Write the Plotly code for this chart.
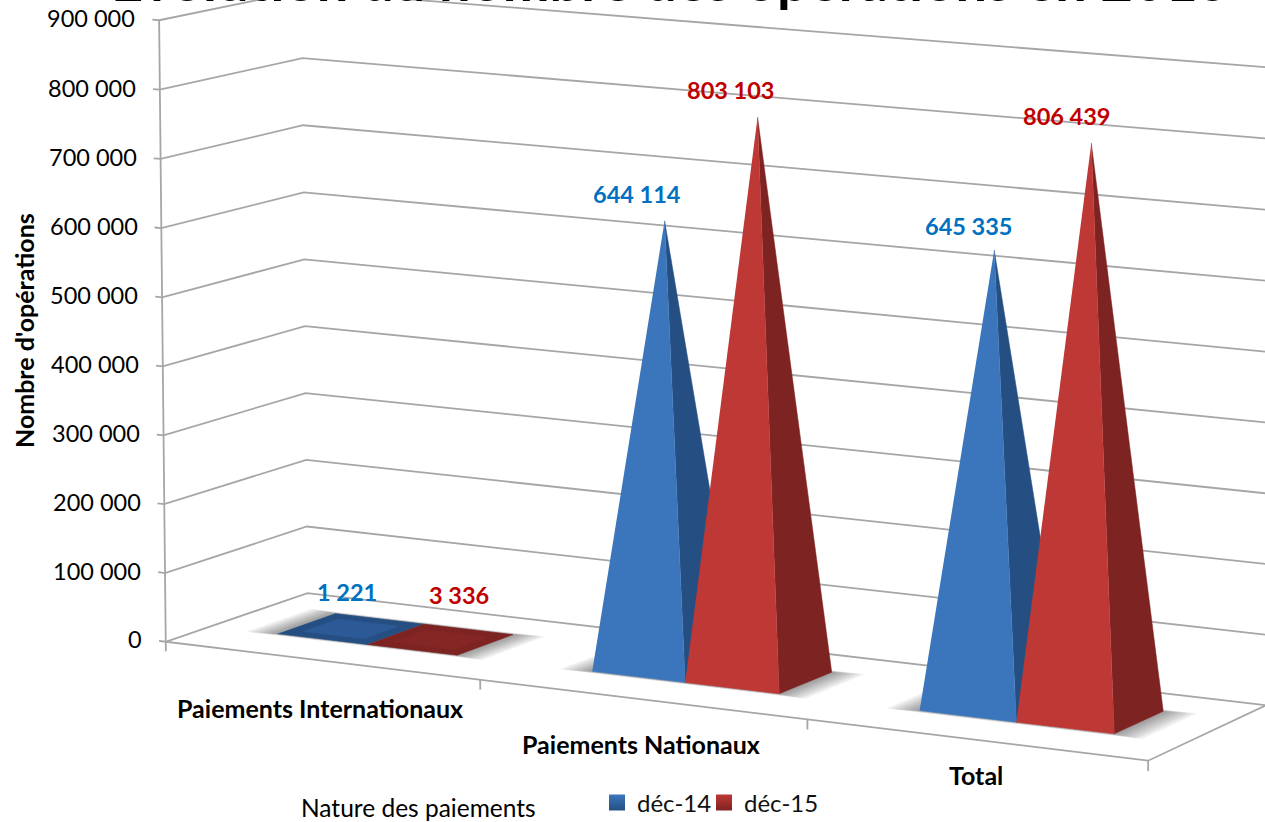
import numpy as np
import plotly.graph_objects as go

CATEGORIES = ["Paiements Internationaux", "Paiements Nationaux", "Total"]
SERIES_NAMES = ["déc-14", "déc-15"]
DEC_14 = [1221, 644114, 645335]
DEC_15 = [3336, 803103, 806439]
Y_TICKS = [0, 100000, 200000, 300000, 400000, 500000, 600000, 700000, 800000, 900000]
Y_TICK_LABELS = ["0", "100 000", "200 000", "300 000", "400 000", "500 000",
                 "600 000", "700 000", "800 000", "900 000"]

FONT = "Lato"
Y_MAX = 900000

# -----------------------------
# perspective of the 3D box, fitted on its corners
# (category, depth, value) -> page position
# -----------------------------
BOX_3D = [(0, 0, 0), (1, 0, 0), (2, 0, 0), (3, 0, 0), (0, 1, 0), (3, 1, 0),
          (0, 0, 1), (0, 1, 1), (3, 1, 1), (0, 0, 8 / 9), (0, 1, 8 / 9), (3, 1, 8 / 9)]
BOX_PAGE = [(166, 639), (480, 683), (808, 720), (1149, 758), (307, 593), (1265, 707),
            (158, 21.5), (303, -10), (1265, 67), (159.5, 90), (303, 58), (1265, 138)]

rows, rhs = [], []
for (c, d, z), (u, w) in zip(BOX_3D, BOX_PAGE):
    rows.append([c, d, z, 1, 0, 0, 0, 0, -u * c, -u * d, -u * z])
    rhs.append(u)
    rows.append([0, 0, 0, 0, c, d, z, 1, -w * c, -w * d, -w * z])
    rhs.append(w)
P = np.linalg.lstsq(np.array(rows, float), np.array(rhs, float), rcond=None)[0]


def project(c, d, v):
    z = v / Y_MAX
    den = P[8] * c + P[9] * d + P[10] * z + 1
    return (P[0] * c + P[1] * d + P[2] * z + P[3]) / den, (P[4] * c + P[5] * d + P[6] * z + P[7]) / den


def polyline(points):
    xy = [project(*p) for p in points]
    return [q[0] for q in xy], [q[1] for q in xy]


fig = go.Figure()


def add_lines(points, color="#a6a6a6", width=1.8):
    x, y = polyline(points)
    fig.add_trace(go.Scatter(x=x, y=y, mode="lines", line=dict(color=color, width=width),
                             hoverinfo="skip", showlegend=False))


def add_face(points, color, opacity=1.0, name=None):
    x, y = polyline(points)
    fig.add_trace(go.Scatter(x=x, y=y, mode="lines", fill="toself", fillcolor=color,
                             line=dict(color=color, width=0.5 if opacity == 1.0 else 0),
                             opacity=opacity, showlegend=False,
                             hoverinfo="skip" if name is None else "text", text=name))


# -----------------------------
# walls and floor
# -----------------------------
for tick in Y_TICKS:
    add_lines([(-0.022, 0, tick), (0, 0, tick), (0, 1, tick), (3, 1, tick)])
add_lines([(0, 0, 0), (0, 0, Y_MAX)])
add_lines([(0, 0, 0), (3, 0, 0), (3, 1, 0)])
for c in range(4):
    add_lines([(c, 0, 0), (c, 0, -14000)])

# -----------------------------
# pyramids
# -----------------------------
BAR_START = 0.213
BAR_WIDTH = 0.288
DEPTH_FRONT = 0.32
DEPTH_BACK = 0.73
APEX_DEPTH = 0.47
APEX_SHIFT = 0.028
FRONT_COLORS = ["#3b76bc", "#be3836"]
SIDE_COLORS = ["#254f82", "#7d2321"]
FLAT_COLORS = ["#2c5a96", "#842624"]
FLAT_LIMIT = 20000
SHADOW_STEPS = [0.09, 0.078, 0.066, 0.054, 0.043, 0.032, 0.022, 0.012]


def base_corners(c0, c1, d0, d1, grow=0.0):
    return [(c0 - grow, d0 - grow * 0.3, 0), (c1 + grow, d0 - grow * 0.3, 0),
            (c1 + grow, d1 + grow * 0.3, 0), (c0 - grow, d1 + grow * 0.3, 0)]


for i in range(len(CATEGORIES)):
    c0 = i + BAR_START
    c1 = c0 + 2 * BAR_WIDTH
    for grow in SHADOW_STEPS:
        add_face(base_corners(c0, c1, DEPTH_FRONT, DEPTH_BACK, grow), "#555555", opacity=0.085)
    for s, values in enumerate([DEC_14, DEC_15]):
        left = c0 + s * BAR_WIDTH
        right = left + BAR_WIDTH
        apex = ((left + right) / 2 + APEX_SHIFT, APEX_DEPTH, values[i])
        label = f"{SERIES_NAMES[s]} : {values[i]:,}".replace(",", " ")
        if values[i] < FLAT_LIMIT:
            add_face(base_corners(left, right, DEPTH_FRONT, DEPTH_BACK), SIDE_COLORS[s], name=label)
            add_face(base_corners(left + 0.045, right - 0.045, DEPTH_FRONT + 0.08, DEPTH_BACK - 0.08),
                     FLAT_COLORS[s], name=label)
        else:
            add_face([(right, DEPTH_FRONT, 0), (right, DEPTH_BACK, 0), apex], SIDE_COLORS[s], name=label)
            add_face([(left, DEPTH_FRONT, 0), (right, DEPTH_FRONT, 0), apex], FRONT_COLORS[s], name=label)

# legend entries, one legend each so the entries can sit close together
LEGEND_REFS = ["legend", "legend2"]
for s, name in enumerate(SERIES_NAMES):
    fig.add_trace(go.Scatter(x=[None], y=[None], mode="markers", name=name, legend=LEGEND_REFS[s],
                             marker=dict(symbol="square", size=16, color=FRONT_COLORS[s],
                                         gradient=dict(type="vertical", color=SIDE_COLORS[s]))))

# -----------------------------
# texts
# -----------------------------
annotations = []


def add_text(x, y, text, size, color="black", bold=False, xshift=0, yshift=0, xanchor="center", angle=0,
             yanchor="middle"):
    annotations.append(dict(x=x, y=y, text=f"<b>{text}</b>" if bold else text, showarrow=False,
                            font=dict(family=FONT, size=size, color=color), xshift=xshift, yshift=yshift,
                            xanchor=xanchor, yanchor=yanchor, textangle=angle))


# title cut by the top of the page
add_text(670, 15.5, "Evolution du nombre des opérations en 2015", 56, bold=True, yanchor="bottom")

for tick, label in zip(Y_TICKS, Y_TICK_LABELS):
    x, y = project(-0.07, 0, tick)
    add_text(x, y, label, 23.5, xanchor="right")

CAT_LABEL_DROP = [48, 45, 35]
CAT_LABEL_NUDGE = [0, 0, 2]
for i, name in enumerate(CATEGORIES):
    x, y = project(i + 0.495, 0, 0)
    add_text(x, y, name, 25, bold=True, xshift=CAT_LABEL_NUDGE[i], yshift=-CAT_LABEL_DROP[i])

VALUE_COLORS = ["#0070c0", "#c00000"]
VALUE_SHIFT = [[(-4.5, 39.5), (-28, 26.5), (-25.5, 24.5)], [(17.5, 45.5), (-26.5, 27.5), (-24, 27.5)]]
for s, values in enumerate([DEC_14, DEC_15]):
    for i, value in enumerate(values):
        mid_c = i + BAR_START + (s + 0.5) * BAR_WIDTH + APEX_SHIFT
        x, y = project(mid_c, APEX_DEPTH, value)
        dx, dy = VALUE_SHIFT[s][i]
        add_text(x, y, f"{value:,}".replace(",", " "), 23.5, color=VALUE_COLORS[s], bold=True, xshift=dx, yshift=dy)

add_text(24, 331, "Nombre d'opérations", 25, bold=True, angle=-90)
add_text(418, 807, "Nature des paiements", 24.5)

legend_style = dict(orientation="h", y=1 - 803 / 822, xanchor="left", yanchor="middle",
                    font=dict(family=FONT, size=24, color="#111111"), bgcolor="rgba(0,0,0,0)", itemwidth=30)

fig.update_layout(
    width=1265,
    height=822,
    margin=dict(l=0, r=0, t=0, b=0, autoexpand=False),
    paper_bgcolor="white",
    plot_bgcolor="white",
    xaxis=dict(range=[0, 1265], visible=False, fixedrange=True),
    yaxis=dict(range=[822, 0], visible=False, fixedrange=True),
    annotations=annotations,
    legend=dict(x=597 / 1265, **legend_style),
    legend2=dict(x=704 / 1265, **legend_style),
)

fig.write_html("out.html", post_script="document.body.style.margin='0'", config=dict(displayModeBar=False))
